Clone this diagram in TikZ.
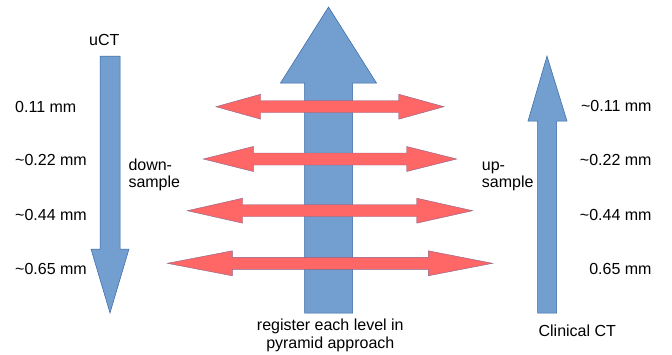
\documentclass[tikz,border=0pt]{standalone}
\usepackage{fontspec}
\setmainfont{Liberation Sans}
\definecolor{bluefill}{HTML}{729FCF}
\definecolor{blueline}{HTML}{3465A4}
\definecolor{redfill}{HTML}{FF6666}
\newcommand\dblarrow[5]{%
  \draw[redarrow] (#2,#1) -- (#3,{#1-12.5}) -- (#3,{#1-6}) -- (#4,{#1-6}) -- (#4,{#1-12.5})
    -- (#5,#1) -- (#4,{#1+12.5}) -- (#4,{#1+6}) -- (#3,{#1+6}) -- (#3,{#1+12.5}) -- cycle;}
\begin{document}
\begin{tikzpicture}[x=1pt,y=-1pt,
  bluearrow/.style={fill=bluefill,draw=blueline,line width=0.5pt,line join=miter},
  redarrow/.style={fill=redfill,draw=blueline!60!redfill,line width=0.4pt},
  lbl/.style={inner sep=0pt,font=\fontsize{16}{18}\selectfont}]
\useasboundingbox (0,0) rectangle (672,354);
% left down arrow (uCT)
\draw[bluearrow] (100,56) -- (120,56) -- (120,249) -- (129,249) -- (110,313) -- (91,249) -- (100,249) -- cycle;
% central up arrow
\draw[bluearrow] (304.5,313) -- (352.5,313) -- (352.5,83) -- (376.5,83) -- (328.5,7) -- (280.5,83) -- (304.5,83) -- cycle;
% right up arrow (clinical CT)
\draw[bluearrow] (537.5,313) -- (556.5,313) -- (556.5,121) -- (567,121) -- (547,56) -- (528,121) -- (537.5,121) -- cycle;
% red double arrows
\dblarrow{106.7}{216}{260.7}{398.7}{444}
\dblarrow{159}{203.3}{253.3}{406.7}{456.7}
\dblarrow{210.7}{187.3}{242.7}{416.7}{472.7}
\dblarrow{263.3}{167.3}{232.3}{428.3}{492.7}
% labels
\node[lbl,anchor=base] (uct) at (104.3,45) {uCT};
\node[lbl,anchor=base west] (l1) at (15,112.5) {0.11 mm};
\node[lbl,anchor=base west] (l2) at (15,165.7) {\textasciitilde0.22 mm};
\node[lbl,anchor=base west] (l3) at (15,220) {\textasciitilde0.44 mm};
\node[lbl,anchor=base west] (l4) at (15,274) {\textasciitilde0.65 mm};
\node[lbl,anchor=base west] (ds1) at (128.3,170.5) {down-};
\node[lbl,anchor=base west] (ds2) at (128.3,187.5) {sample};
\node[lbl,anchor=base west] (us1) at (481.7,170.5) {up-};
\node[lbl,anchor=base west] (us2) at (481.7,187.5) {sample};
\node[lbl,anchor=base east] (r1) at (651.7,111.7) {\textasciitilde0.11 mm};
\node[lbl,anchor=base east] (r2) at (651.7,165.7) {\textasciitilde0.22 mm};
\node[lbl,anchor=base east] (r3) at (651.7,220) {\textasciitilde0.44 mm};
\node[lbl,anchor=base east] (r4) at (651.7,274) {0.65 mm};
\node[lbl,anchor=base] (cct) at (577.3,336.7) {Clinical CT};
\node[lbl,anchor=base] (reg1) at (330.3,330) {register each level in};
\node[lbl,anchor=base] (reg2) at (330.3,348) {pyramid approach};
\end{tikzpicture}
\end{document}
